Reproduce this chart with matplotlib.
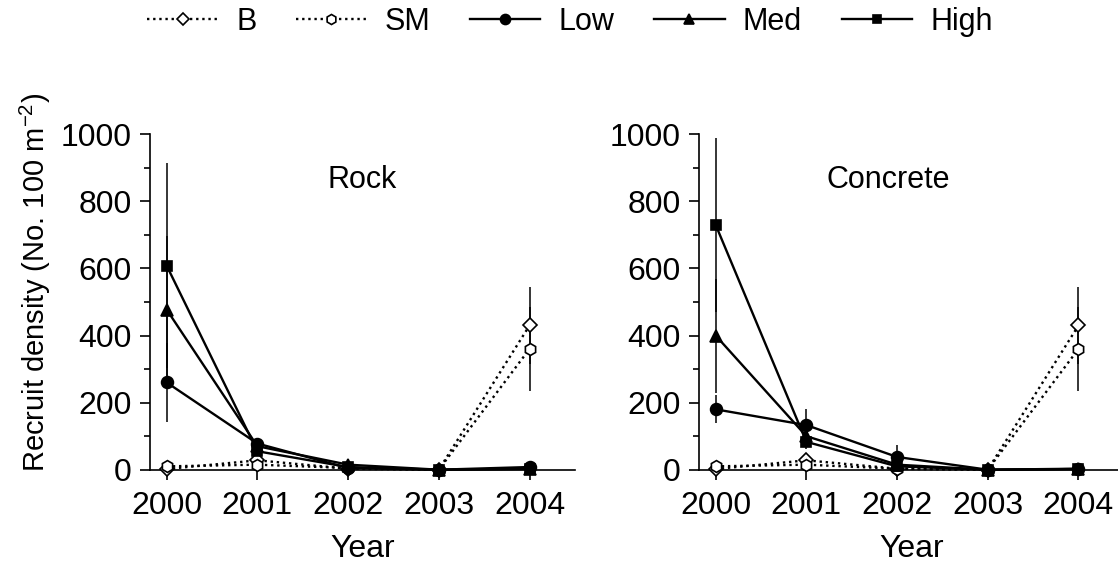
import numpy as np
import matplotlib
matplotlib.use("Agg")
import matplotlib.pyplot as plt
from matplotlib.ticker import MultipleLocator

plt.rcParams.update({
    "font.family": ["Liberation Sans", "DejaVu Sans"],
    "font.size": 23,
    "mathtext.default": "regular",
    "axes.linewidth": 1.2,
})

# ---------------------------------------------------------------
# Data
# ---------------------------------------------------------------
years = [2000, 2001, 2002, 2003, 2004]
panels = ["Rock", "Concrete"]
title_x = {"Rock": 2002.15, "Concrete": 2001.9}

rock_b       = [2, 28, 3, 0, 430]
rock_b_err   = [5, 10, 3, 0, 115]
rock_sm      = [10, 15, 5, 0, 360]
rock_sm_err  = [5, 8, 3, 0, 125]
rock_low     = [260, 78, 5, 0, 8]
rock_low_err = [118, 15, 5, 0, 5]
rock_med     = [477, 70, 15, 0, 3]
rock_med_err = [220, 12, 8, 0, 3]
rock_high    = [608, 55, 8, 0, 2]
rock_high_err = [305, 10, 5, 0, 2]

conc_b       = [2, 28, 3, 0, 430]
conc_b_err   = [5, 10, 3, 0, 115]
conc_sm      = [10, 15, 3, 0, 360]
conc_sm_err  = [5, 8, 2, 0, 125]
conc_low     = [180, 133, 38, 0, 3]
conc_low_err = [42, 48, 36, 0, 3]
conc_med     = [400, 100, 15, 0, 2]
conc_med_err = [170, 20, 8, 0, 2]
conc_high    = [730, 83, 10, 0, 2]
conc_high_err = [260, 20, 8, 0, 2]

series_labels = ["B", "SM", "Low", "Med", "High"]
markers = ["D", "h", "o", "^", "s"]
msizes  = [7, 8.5, 8.5, 8.5, 7.5]
dotted  = (0, (1, 1.6))
lstyles = [dotted, dotted, "-", "-", "-"]
faces   = ["white", "white", "black", "black", "black"]

data = {
    "Rock": [(rock_b, rock_b_err), (rock_sm, rock_sm_err), (rock_low, rock_low_err),
             (rock_med, rock_med_err), (rock_high, rock_high_err)],
    "Concrete": [(conc_b, conc_b_err), (conc_sm, conc_sm_err), (conc_low, conc_low_err),
                 (conc_med, conc_med_err), (conc_high, conc_high_err)],
}

# ---------------------------------------------------------------
# Figure
# ---------------------------------------------------------------
fig = plt.figure(figsize=(11.18, 5.69), dpi=100)
ax_w, ax_h = 0.380, 0.5895
axes = [fig.add_axes([0.1342, 0.1745, ax_w, ax_h]),
        fig.add_axes([0.6252, 0.1745, ax_w, ax_h])]

handles = []
for ax, name in zip(axes, panels):
    hs = []
    for (vals, err), lab, mk, ms, ls, fc in zip(data[name], series_labels, markers,
                                                   msizes, lstyles, faces):
        eb = ax.errorbar(years, vals, yerr=err, fmt="none", ecolor="black",
                         elinewidth=1.1, capsize=0, zorder=2)
        for art in eb.lines[2]:
            art.set_clip_on(False)
        ln, = ax.plot(years, vals, linestyle=ls, color="black", lw=1.7,
                      marker=mk, ms=ms, mfc=fc, mec="black", mew=1.2,
                      label=lab, clip_on=False, zorder=3)
        hs.append(ln)
    handles = hs

    ax.set_xlim(1999.816, 2004.5)
    ax.set_ylim(0, 1000)
    ax.set_xticks(years)
    ax.yaxis.set_major_locator(MultipleLocator(200))
    ax.yaxis.set_minor_locator(MultipleLocator(100))
    ax.spines["top"].set_visible(False)
    ax.spines["right"].set_visible(False)
    ax.tick_params(axis="both", which="major", direction="out", length=7, width=1.2)
    ax.tick_params(axis="y", which="minor", direction="out", length=4, width=1.2)
    ax.tick_params(axis="x", pad=8)
    ax.tick_params(axis="y", pad=6)
    ax.set_xlabel("Year", labelpad=10)
    ax.text(title_x[name], 865, name, ha="center", va="center", fontsize=22)

axes[0].set_ylabel("Recruit density (No. 100 m$^{-2}$)", fontsize=21)
axes[0].yaxis.set_label_coords(-0.228, 0.557)

fig.legend(handles=handles, labels=series_labels, loc="center",
           bbox_to_anchor=(0.51, 0.961), ncol=5, frameon=False,
           handlelength=2.3, handletextpad=0.6, columnspacing=1.3, fontsize=22,
           markerscale=0.85)

plt.savefig("out.png", dpi=100)
